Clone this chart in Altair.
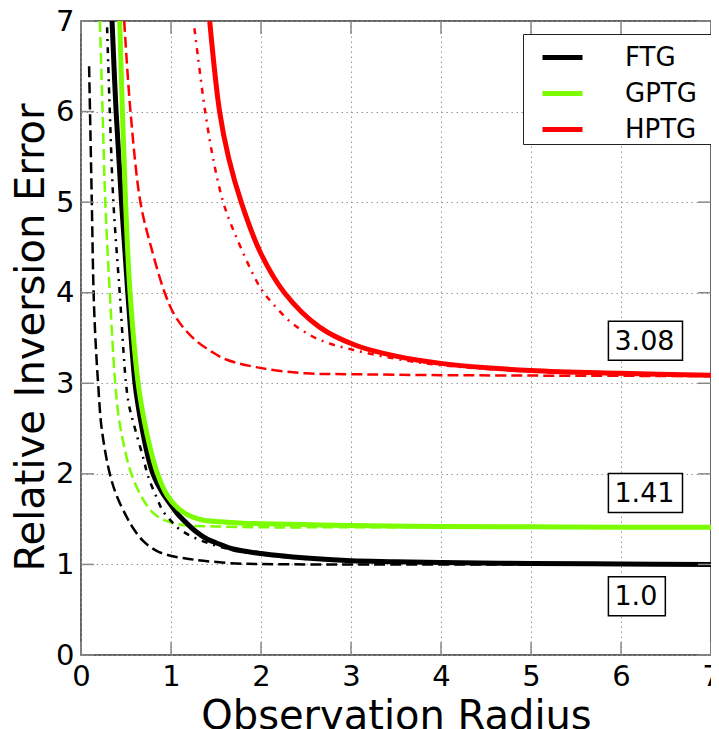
import altair as alt
import pandas as pd

# ---------------- data ----------------
methods = ["FTG", "GPTG", "HPTG"]
colors = ["#000000", "#7CFC00", "#FF0000"]

ftg_solid_x = [0.345, 0.39, 0.45, 0.52, 0.60, 0.635, 0.67, 0.73, 0.80, 0.90, 0.99, 1.08, 1.17, 1.28, 1.40, 1.55, 1.69, 2.0, 2.5, 3.0, 3.5, 4.0, 5.0, 6.0, 7.0]
ftg_solid_y = [7.0, 6.0, 5.0, 4.0, 3.0, 2.75, 2.55, 2.25, 2.0, 1.8, 1.67, 1.55, 1.46, 1.36, 1.28, 1.22, 1.17, 1.12, 1.07, 1.04, 1.03, 1.02, 1.01, 1.005, 1.0]

ftg_dashdot_x = [0.29, 0.32, 0.36, 0.43, 0.50, 0.535, 0.60, 0.69, 0.75, 0.84, 0.91, 1.0, 1.08, 1.23, 1.43, 1.69, 2.0, 2.5, 3.0, 4.0, 5.0, 7.0]
ftg_dashdot_y = [6.93, 6.0, 5.0, 4.0, 3.0, 2.75, 2.50, 2.18, 1.96, 1.74, 1.59, 1.48, 1.40, 1.31, 1.23, 1.16, 1.11, 1.06, 1.04, 1.02, 1.01, 1.0]

ftg_dashed_x = [0.09, 0.10, 0.12, 0.14, 0.16, 0.19, 0.23, 0.32, 0.40, 0.51, 0.58, 0.69, 0.84, 1.02, 1.20, 1.36, 1.73, 2.0, 2.5, 3.0, 4.0, 7.0]
ftg_dashed_y = [6.5, 6.0, 5.0, 4.0, 3.5, 3.0, 2.5, 2.0, 1.75, 1.52, 1.40, 1.26, 1.15, 1.09, 1.06, 1.04, 1.01, 1.005, 1.0, 1.0, 1.0, 1.0]

gptg_solid_x = [0.43, 0.46, 0.495, 0.545, 0.635, 0.70, 0.77, 0.85, 0.96, 1.08, 1.20, 1.35, 1.55, 1.80, 2.0, 2.5, 3.0, 4.0, 5.0, 6.0, 7.0]
gptg_solid_y = [7.0, 6.0, 5.0, 4.0, 3.0, 2.6, 2.28, 2.0, 1.76, 1.62, 1.54, 1.49, 1.47, 1.455, 1.45, 1.44, 1.43, 1.42, 1.415, 1.41, 1.41]

gptg_dashed_x = [0.21, 0.24, 0.27, 0.32, 0.38, 0.42, 0.47, 0.54, 0.66, 0.80, 0.95, 1.17, 1.5, 2.0, 3.0, 7.0]
gptg_dashed_y = [7.0, 6.0, 5.0, 4.0, 3.0, 2.62, 2.35, 2.06, 1.77, 1.57, 1.48, 1.43, 1.42, 1.41, 1.41, 1.41]

hptg_solid_x = [1.43, 1.54, 1.64, 1.78, 2.0, 2.26, 2.65, 3.05, 3.5, 4.0, 5.0, 6.0, 7.0]
hptg_solid_y = [7.0, 6.0, 5.49, 5.0, 4.43, 4.0, 3.62, 3.42, 3.30, 3.22, 3.14, 3.11, 3.09]

hptg_dashdot_x = [1.26, 1.30, 1.38, 1.47, 1.58, 1.71, 1.99, 2.13, 2.35, 2.65, 3.02, 3.5, 4.0, 5.0, 6.0, 7.0]
hptg_dashdot_y = [6.92, 6.6, 6.0, 5.47, 5.0, 4.65, 4.06, 3.88, 3.66, 3.48, 3.37, 3.27, 3.20, 3.13, 3.10, 3.09]

hptg_dashed_x = [0.48, 0.55, 0.66, 0.78, 0.93, 1.03, 1.15, 1.29, 1.45, 1.62, 1.99, 2.5, 3.01, 4.0, 5.0, 7.0]
hptg_dashed_y = [7.0, 6.0, 5.0, 4.5, 4.0, 3.77, 3.60, 3.46, 3.35, 3.26, 3.17, 3.11, 3.10, 3.09, 3.085, 3.08]

annot_labels = ["3.08", "1.41", "1.0"]
annot_x = [5.86, 5.86, 5.86]
annot_y = [3.47, 1.79, 0.65]

tick_values = [0, 1, 2, 3, 4, 5, 6, 7]

# ---------------- tables ----------------
curves = [
    ("FTG", "solid", ftg_solid_x, ftg_solid_y),
    ("FTG", "dashdot", ftg_dashdot_x, ftg_dashdot_y),
    ("FTG", "dashed", ftg_dashed_x, ftg_dashed_y),
    ("GPTG", "solid", gptg_solid_x, gptg_solid_y),
    ("GPTG", "dashed", gptg_dashed_x, gptg_dashed_y),
    ("HPTG", "solid", hptg_solid_x, hptg_solid_y),
    ("HPTG", "dashdot", hptg_dashdot_x, hptg_dashdot_y),
    ("HPTG", "dashed", hptg_dashed_x, hptg_dashed_y),
]
rows = []
for m, s, xs, ys in curves:
    for i, (xv, yv) in enumerate(zip(xs, ys)):
        rows.append({"method": m, "style": s, "r": xv, "err": yv, "i": i})
df = pd.DataFrame(rows)

W, H = 630, 634
px_x = W / 7.0
px_y = H / 7.0
fs_annot = 27


def text_w(s):
    return sum(0.318 if c == "." else 0.636 for c in s) * fs_annot


ann = pd.DataFrame({"label": annot_labels, "x": annot_x, "y": annot_y})
ann["x2"] = [x + (text_w(s) + 14) / px_x for x, s in zip(annot_x, annot_labels)]
ann["y1"] = ann["y"] - 19.5 / px_y
ann["y2"] = ann["y"] + 19.5 / px_y

ticks_df = pd.DataFrame({"v": tick_values})

xscale = alt.Scale(domain=[0, 7], nice=False, zero=False)
yscale = alt.Scale(domain=[0, 7], nice=False, zero=False)
cscale = alt.Scale(domain=methods, range=colors)

xaxis = alt.Axis(title="Observation Radius", values=tick_values, format="d",
                 labelPadding=7, titleX=315, titleY=73, titleBaseline="alphabetic",
                 titleAlign="center")
yaxis = alt.Axis(title="Relative Inversion Error", values=tick_values, format="d",
                 labelPadding=7, titleX=-37.5, titleY=316, titleAngle=270,
                 titleBaseline="alphabetic", titleAlign="center")
legend = alt.Legend(
    title=None, orient="none", legendX=442, legendY=13,
    symbolType="stroke", symbolSize=1600, symbolStrokeWidth=5,
    symbolOffset=16, labelOffset=40, rowPadding=-4, padding=1,
    labelFontSize=26, labelFont="DejaVu Sans", labelColor="black",
    strokeColor="#222", fillColor="white",
    labelExpr="datum.label + '\u2800'",
)

X = lambda f: alt.X(f, scale=xscale, axis=xaxis, title="Observation Radius")
Y = lambda f: alt.Y(f, scale=yscale, axis=yaxis, title="Relative Inversion Error")

base = alt.Chart(df)


def curve_layer(style, width, dash):
    kw = dict(strokeWidth=width, clip=True, interpolate="catmull-rom")
    if dash:
        kw["strokeDash"] = dash
    return base.transform_filter(alt.datum.style == style).mark_line(**kw).encode(
        x=X("r:Q"), y=Y("err:Q"),
        color=alt.Color("method:N", scale=cscale, legend=legend),
        order="i:Q",
    )


dashed = curve_layer("dashed", 2.5, [11, 5])
dashdot = curve_layer("dashdot", 2.5, [6, 6, 2, 6])
solid = curve_layer("solid", 5, None)

tick_color = "#888888"
tchart = alt.Chart(ticks_df)
tick_bottom = tchart.mark_rule(color=tick_color, strokeWidth=1.5).encode(
    x=X("v:Q"), y=alt.value(H), y2=alt.value(H - 13))
tick_top = tchart.mark_rule(color=tick_color, strokeWidth=1.5).encode(
    x=X("v:Q"), y=alt.value(0), y2=alt.value(13))
tick_left = tchart.mark_rule(color=tick_color, strokeWidth=1.5).encode(
    y=Y("v:Q"), x=alt.value(0), x2=alt.value(13))
tick_right = tchart.mark_rule(color=tick_color, strokeWidth=1.5).encode(
    y=Y("v:Q"), x=alt.value(W - 13), x2=alt.value(W))

achart = alt.Chart(ann)
boxes = achart.mark_rect(fill="white", stroke="black", strokeWidth=1.5).encode(
    x=X("x:Q"), x2="x2:Q", y=Y("y1:Q"), y2="y2:Q")
texts = achart.mark_text(align="left", baseline="middle", dx=6, dy=1, fontSize=fs_annot,
                         font="DejaVu Sans", color="black").encode(
    x=X("x:Q"), y=Y("y:Q"), text="label:N")

chart = alt.layer(
    dashed, dashdot, solid,
    tick_bottom, tick_top, tick_left, tick_right,
    boxes, texts,
).properties(
    width=W, height=H,
    padding={"left": 73, "top": 13, "right": 0, "bottom": 74},
    autosize=alt.AutoSizeParams(type="none"),
).configure_view(
    stroke="#333333", strokeWidth=1.5,
).configure_axis(
    labelFont="DejaVu Sans", labelFontSize=29, labelColor="black",
    titleFont="DejaVu Sans", titleFontSize=40, titleFontWeight="normal", titleColor="black",
    domain=False, ticks=False, tickSize=0, labelFlush=False,
    grid=True, gridColor="#999999", gridDash=[1.5, 3.5], gridWidth=1,
)

chart.save("out.html", embed_options={"renderer": "svg", "actions": False})
